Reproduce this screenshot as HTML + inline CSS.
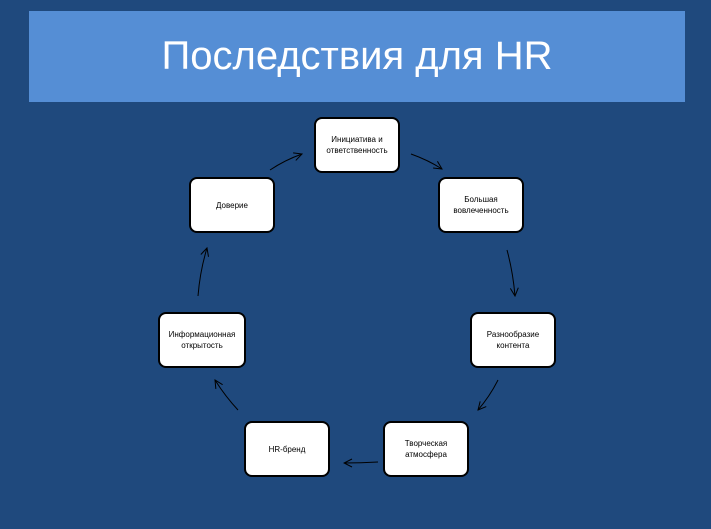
<!DOCTYPE html>
<html><head><meta charset="utf-8"><style>
body{margin:0;width:711px;height:529px;background:#1f497d;position:relative;overflow:hidden;font-family:"Liberation Sans","DejaVu Sans",sans-serif}
.ban{position:absolute;left:29px;top:11px;width:656px;height:91px;background:#558ed5;color:#fff;font-size:40px;text-align:center;line-height:91px}
.b{position:absolute;width:82px;height:52px;background:#fff;border:2px solid #000;border-radius:8px;display:flex;align-items:center;justify-content:center;text-align:center;font-size:8px;line-height:11px;color:#000}
</style></head><body>
<div class="ban">Последствия для HR</div>
<div class="b" style="left:314px;top:117px">Инициатива и<br>ответственность</div>
<div class="b" style="left:438px;top:177px">Большая<br>вовлеченность</div>
<div class="b" style="left:189px;top:177px">Доверие</div>
<div class="b" style="left:470px;top:312px">Разнообразие<br>контента</div>
<div class="b" style="left:158px;top:312px;width:84px">Информационная<br>открытость</div>
<div class="b" style="left:383px;top:421px">Творческая<br>атмосфера</div>
<div class="b" style="left:244px;top:421px">HR-бренд</div>
<svg width="711" height="529" style="position:absolute;left:0;top:0" fill="none" stroke="#000" stroke-width="1">
<defs><marker id="a" markerWidth="10" markerHeight="10" refX="9" refY="5" orient="auto" markerUnits="userSpaceOnUse"><path d="M1,1 L9,5 L1,9" stroke="#000" fill="none"/></marker></defs>
<path d="M270,170 Q285,160 302,154" marker-end="url(#a)"/>
<path d="M411,154 Q428,160 442,169" marker-end="url(#a)"/>
<path d="M507,250 Q513,272 515,296" marker-end="url(#a)"/>
<path d="M498,380 Q490,396 478,410" marker-end="url(#a)"/>
<path d="M378,462 Q361,463 344,463" marker-end="url(#a)"/>
<path d="M238,410 Q225,396 215,380" marker-end="url(#a)"/>
<path d="M198,296 Q200,271 207,248" marker-end="url(#a)"/>
</svg>
</body></html>
